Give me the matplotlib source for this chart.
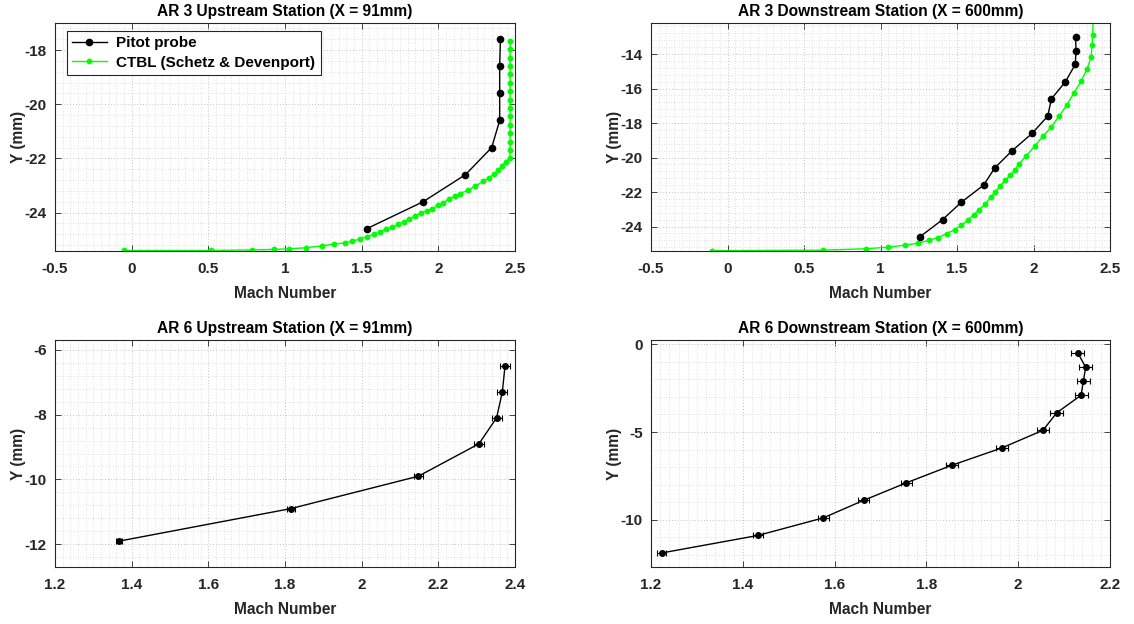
import matplotlib
matplotlib.use("Agg")
import matplotlib.pyplot as plt
from matplotlib.ticker import MultipleLocator, FuncFormatter
import numpy as np

plt.rcParams['font.family'] = ['Liberation Sans', 'DejaVu Sans']
plt.rcParams['font.weight'] = 'bold'
plt.rcParams['axes.unicode_minus'] = False

# ---------------- data ----------------
# AR 3 upstream (X = 91 mm)
ar3u_pitot_y = [-17.6, -18.6, -19.6, -20.6, -21.6, -22.6, -23.6, -24.6]
ar3u_pitot_m = [2.405, 2.400, 2.400, 2.400, 2.348, 2.177, 1.901, 1.532]
ar3u_ctbl_y = [-17.66, -17.97, -18.28, -18.59, -18.90, -19.21, -19.52, -19.83,
               -20.14, -20.45, -20.76, -21.07, -21.38, -21.69, -21.98,
               -22.12, -22.28, -22.43, -22.58, -22.72, -22.84, -23.03, -23.16,
               -23.30, -23.40, -23.50, -23.64, -23.73, -23.86, -23.94, -24.01,
               -24.12, -24.25, -24.34, -24.44, -24.54, -24.62, -24.72, -24.81,
               -24.89, -24.98, -25.06, -25.12, -25.17, -25.23, -25.30, -25.34,
               -25.36, -25.38, -25.40, -25.40]
ar3u_ctbl_m = [2.468, 2.468, 2.468, 2.468, 2.468, 2.468, 2.468, 2.468,
               2.468, 2.468, 2.468, 2.468, 2.468, 2.468, 2.466,
               2.440, 2.415, 2.390, 2.362, 2.330, 2.293, 2.242, 2.196,
               2.143, 2.106, 2.070, 2.033, 1.998, 1.960, 1.923, 1.888,
               1.850, 1.811, 1.773, 1.736, 1.696, 1.656, 1.619, 1.579,
               1.533, 1.489, 1.434, 1.390, 1.317, 1.244, 1.134, 1.028,
               0.929, 0.788, 0.517, -0.048]

# AR 3 downstream (X = 600 mm)
ar3d_pitot_y = [-13.0, -13.8, -14.6, -15.6, -16.6, -17.6, -18.6, -19.6,
                -20.6, -21.6, -22.6, -23.6, -24.6]
ar3d_pitot_m = [2.275, 2.278, 2.273, 2.209, 2.117, 2.093, 1.991, 1.861,
                1.747, 1.674, 1.527, 1.406, 1.257]
ar3d_ctbl_y = [-11.80, -12.90, -13.48, -14.15, -14.89, -15.58, -16.27, -16.95,
               -17.58, -18.22, -18.78, -19.34, -19.90, -20.38, -20.72, -21.02,
               -21.33, -21.66, -21.98, -22.29, -22.70, -23.02, -23.33, -23.64,
               -23.93, -24.18, -24.41, -24.64, -24.81, -24.97, -25.08, -25.20,
               -25.29, -25.37, -25.40]
ar3d_ctbl_m = [2.390, 2.387, 2.382, 2.377, 2.349, 2.311, 2.263, 2.218,
               2.169, 2.117, 2.060, 2.008, 1.953, 1.903, 1.879, 1.848,
               1.813, 1.782, 1.751, 1.720, 1.685, 1.645, 1.608, 1.570,
               1.528, 1.486, 1.433, 1.376, 1.314, 1.246, 1.159, 1.048,
               0.907, 0.626, -0.100]

# AR 6 upstream (X = 91 mm)
ar6u_y = [-6.5, -7.3, -8.1, -8.9, -9.9, -10.9, -11.9]
ar6u_m = [2.374, 2.367, 2.352, 2.306, 2.148, 1.815, 1.368]
ar6u_err = [0.014, 0.013, 0.013, 0.013, 0.012, 0.010, 0.008]

# AR 6 downstream (X = 600 mm)
ar6d_y = [-0.5, -1.3, -2.1, -2.9, -3.9, -4.9, -5.9, -6.9, -7.9, -8.9,
          -9.9, -10.9, -11.9]
ar6d_m = [2.130, 2.147, 2.142, 2.137, 2.084, 2.054, 1.965, 1.855, 1.756,
          1.663, 1.575, 1.433, 1.223]
ar6d_err = [0.014, 0.014, 0.014, 0.014, 0.014, 0.013, 0.013, 0.013, 0.012,
            0.012, 0.012, 0.011, 0.009]

titles = ['AR 3 Upstream Station (X = 91mm)', 'AR 3 Downstream Station (X = 600mm)',
          'AR 6 Upstream Station (X = 91mm)', 'AR 6 Downstream Station (X = 600mm)']
legend_labels = ['Pitot probe', 'CTBL (Schetz & Devenport)']

# ---------------- figure ----------------
W, H = 1134, 624
fig = plt.figure(figsize=(W / 100, H / 100), dpi=100)

def add_ax(l, t, r, b):
    return fig.add_axes([l / W, 1 - b / H, (r - l) / W, (b - t) / H])

ax1 = add_ax(55, 23, 515, 251)
ax2 = add_ax(651, 23, 1110, 251)
ax3 = add_ax(55, 340, 515, 567)
ax4 = add_ax(651, 340, 1110, 567)

dark = '#262626'
green = '#00ff00'
fmt = FuncFormatter(lambda v, p: '%g' % round(v, 6))

def style(ax, title, xmaj, xmin, ymaj, ymin):
    ax.set_title(title, fontsize=11.2, fontweight='bold', color='black', pad=5)
    ax.set_xlabel('Mach Number', fontsize=11.2, fontweight='bold', color=dark, labelpad=7)
    ax.set_ylabel('Y (mm)', fontsize=11.2, fontweight='bold', color=dark, labelpad=-1)
    ax.xaxis.set_major_locator(MultipleLocator(xmaj))
    ax.xaxis.set_minor_locator(MultipleLocator(xmin))
    ax.yaxis.set_major_locator(MultipleLocator(ymaj))
    ax.yaxis.set_minor_locator(MultipleLocator(ymin))
    ax.xaxis.set_major_formatter(fmt)
    ax.yaxis.set_major_formatter(fmt)
    ax.tick_params(which='both', direction='in', top=True, right=True, colors=dark,
                   labelsize=11)
    ax.tick_params(which='major', length=4, width=0.6)
    ax.tick_params(axis='x', which='major', pad=8)
    ax.tick_params(axis='y', which='major', pad=6)
    ax.tick_params(which='minor', length=0)
    for lab in ax.get_xticklabels() + ax.get_yticklabels():
        lab.set_fontweight('bold')
    ax.grid(which='major', color='#c4c4c4', linestyle=(0, (1, 2)), linewidth=0.7)
    ax.grid(which='minor', color='#d8d8d8', linestyle=(0, (1, 2)), linewidth=0.6)
    ax.set_axisbelow(True)
    for s in ax.spines.values():
        s.set_color(dark)
        s.set_linewidth(0.8)

# AR3 upstream
ax1.plot(ar3u_pitot_m, ar3u_pitot_y, '-o', color='black', lw=1.0, ms=4.5,
         label=legend_labels[0], zorder=3)
ax1.plot(ar3u_ctbl_m, ar3u_ctbl_y, '-o', color=green, lw=1.0, ms=3.2,
         label=legend_labels[1], zorder=2)
ax1.set_xlim(-0.5, 2.5)
ax1.set_ylim(-25.42, -17.0)
style(ax1, titles[0], 0.5, 0.05, 2, 0.4)
leg = ax1.legend(loc='upper left', bbox_to_anchor=(0.025, 0.965), fontsize=11,
                 frameon=True, fancybox=False, edgecolor=dark, framealpha=1,
                 handlelength=2.3, borderpad=0.35, labelspacing=0.35,
                 handletextpad=0.6, borderaxespad=0.0)
leg.get_frame().set_linewidth(0.8)
for t in leg.get_texts():
    t.set_fontweight('bold')

# AR3 downstream
ax2.plot(ar3d_pitot_m, ar3d_pitot_y, '-o', color='black', lw=1.0, ms=4.5, zorder=3)
ax2.plot(ar3d_ctbl_m, ar3d_ctbl_y, '-o', color=green, lw=1.0, ms=3.2, zorder=2)
ax2.set_xlim(-0.5, 2.5)
ax2.set_ylim(-25.42, -12.2)
style(ax2, titles[1], 0.5, 0.05, 2, 0.4)

# AR6 upstream
ax3.errorbar(ar6u_m, ar6u_y, xerr=ar6u_err, fmt='-o', color='black', lw=1.0,
             ms=4, elinewidth=0.8, capsize=2, capthick=0.8)
ax3.set_xlim(1.2, 2.4)
ax3.set_ylim(-12.7, -5.7)
style(ax3, titles[2], 0.2, 0.02, 2, 0.4)

# AR6 downstream
ax4.errorbar(ar6d_m, ar6d_y, xerr=ar6d_err, fmt='-o', color='black', lw=1.0,
             ms=4, elinewidth=0.8, capsize=2, capthick=0.8)
ax4.set_xlim(1.2, 2.2)
ax4.set_ylim(-12.7, 0.25)
style(ax4, titles[3], 0.2, 0.02, 5, 1)

fig.savefig('out.png', dpi=100, facecolor='white')
